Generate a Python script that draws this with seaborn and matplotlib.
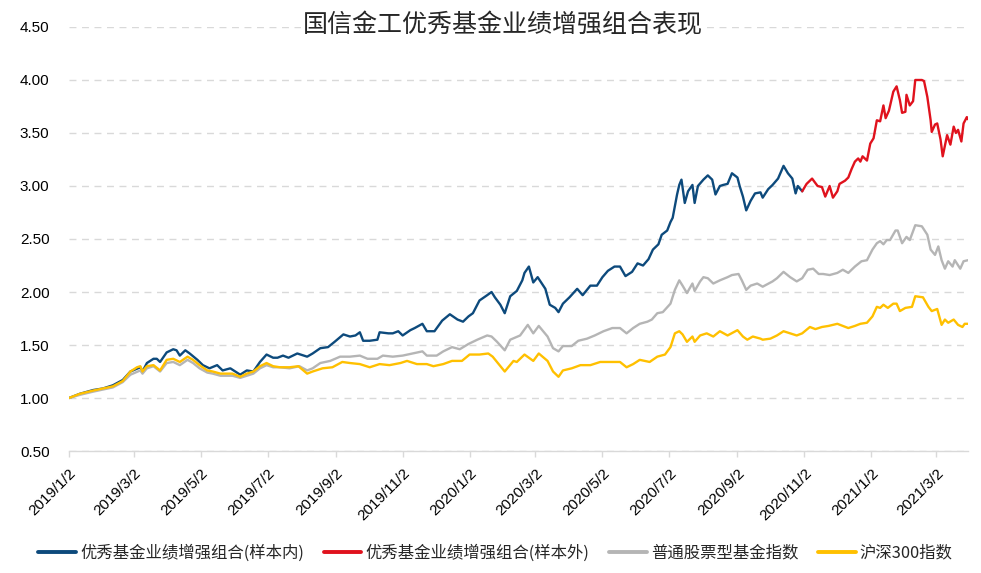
import matplotlib
matplotlib.use("Agg")
import matplotlib.pyplot as plt
from matplotlib.lines import Line2D
import pandas as pd
import seaborn as sns

# ---------------- data ----------------
blue_dates = ["2019-01-02","2019-01-12","2019-01-24","2019-02-02","2019-02-11","2019-02-20","2019-02-27","2019-03-08","2019-03-10","2019-03-14",
    "2019-03-20","2019-03-23","2019-03-26","2019-04-01","2019-04-07","2019-04-10","2019-04-13","2019-04-18","2019-04-22","2019-04-29",
    "2019-05-04","2019-05-10","2019-05-17","2019-05-22","2019-05-29","2019-06-07","2019-06-13","2019-06-19","2019-06-25","2019-07-01",
    "2019-07-07","2019-07-11","2019-07-16","2019-07-21","2019-07-29","2019-08-07","2019-08-12","2019-08-19","2019-08-26","2019-09-01",
    "2019-09-09","2019-09-15","2019-09-20","2019-09-24","2019-09-27","2019-10-03","2019-10-10","2019-10-12","2019-10-20","2019-10-24",
    "2019-10-29","2019-11-02","2019-11-09","2019-11-13","2019-11-20","2019-11-24","2019-12-01","2019-12-08","2019-12-15","2019-12-22",
    "2019-12-27","2020-01-01","2020-01-05","2020-01-11","2020-01-18","2020-01-22","2020-01-25","2020-01-30","2020-02-03","2020-02-08",
    "2020-02-14","2020-02-19","2020-02-21","2020-02-25","2020-02-29","2020-03-04","2020-03-11","2020-03-15","2020-03-20","2020-03-23",
    "2020-03-27","2020-04-02","2020-04-09","2020-04-14","2020-04-21","2020-04-27","2020-05-02","2020-05-07","2020-05-13","2020-05-18",
    "2020-05-23","2020-05-29","2020-06-03","2020-06-08","2020-06-13","2020-06-17","2020-06-22","2020-06-25","2020-06-30","2020-07-03",
    "2020-07-05","2020-07-09","2020-07-11","2020-07-13","2020-07-16","2020-07-19","2020-07-23","2020-07-25","2020-07-28","2020-08-02",
    "2020-08-06","2020-08-10","2020-08-13","2020-08-17","2020-08-20","2020-08-24","2020-08-28","2020-09-02","2020-09-04","2020-09-07",
    "2020-09-10","2020-09-14","2020-09-18","2020-09-23","2020-09-25","2020-09-30","2020-10-04","2020-10-09","2020-10-14","2020-10-18",
    "2020-10-22","2020-10-25","2020-10-27","2020-10-31"]
blue_vals = [1.00,1.04,1.075,1.09,1.12,1.17,1.25,1.29,1.25,1.33,
    1.37,1.37,1.34,1.43,1.46,1.45,1.40,1.45,1.42,1.36,
    1.31,1.28,1.31,1.26,1.28,1.22,1.26,1.25,1.34,1.41,
    1.38,1.38,1.40,1.38,1.42,1.39,1.42,1.47,1.48,1.53,
    1.60,1.58,1.59,1.62,1.54,1.54,1.55,1.62,1.61,1.61,
    1.63,1.59,1.64,1.66,1.70,1.63,1.63,1.73,1.79,1.74,
    1.72,1.77,1.80,1.92,1.97,2.00,1.95,1.88,1.80,1.96,
    2.01,2.11,2.18,2.24,2.09,2.14,2.03,1.88,1.85,1.81,
    1.89,1.95,2.03,1.97,2.06,2.06,2.14,2.20,2.24,2.24,
    2.15,2.19,2.27,2.25,2.31,2.40,2.45,2.54,2.58,2.66,
    2.70,2.92,3.01,3.06,2.84,2.95,3.01,2.84,3.00,3.06,
    3.10,3.06,2.92,3.00,3.01,3.02,3.12,3.08,3.00,2.90,
    2.77,2.86,2.93,2.94,2.89,2.97,3.01,3.07,3.19,3.12,
    3.07,2.93,3.00,2.95]

red_dates = ["2020-10-31","2020-11-04","2020-11-09","2020-11-14","2020-11-18","2020-11-21","2020-11-25","2020-11-28","2020-12-02","2020-12-04",
    "2020-12-09","2020-12-12","2020-12-15","2020-12-18","2020-12-21","2020-12-23","2020-12-25","2020-12-29","2021-01-01","2021-01-04",
    "2021-01-07","2021-01-10","2021-01-13","2021-01-15","2021-01-18","2021-01-22","2021-01-25","2021-01-28","2021-01-30","2021-02-02",
    "2021-02-03","2021-02-06","2021-02-09","2021-02-11","2021-02-17","2021-02-19","2021-02-22","2021-02-25","2021-02-26","2021-03-01",
    "2021-03-03","2021-03-06","2021-03-08","2021-03-12","2021-03-15","2021-03-18","2021-03-20","2021-03-22","2021-03-25","2021-03-27",
    "2021-03-30","2021-03-31"]
red_vals = [2.95,3.02,3.07,3.00,2.99,2.90,3.00,2.89,2.95,3.02,
    3.05,3.08,3.16,3.23,3.26,3.23,3.28,3.24,3.40,3.45,
    3.62,3.61,3.76,3.64,3.71,3.89,3.94,3.81,3.69,3.70,
    3.86,3.76,3.80,4.00,4.00,3.99,3.84,3.62,3.51,3.58,
    3.59,3.44,3.28,3.48,3.39,3.56,3.50,3.53,3.42,3.59,
    3.65,3.63]

gray_dates = ["2019-01-02","2019-01-12","2019-01-24","2019-02-02","2019-02-11","2019-02-20","2019-02-27","2019-03-08","2019-03-10","2019-03-14",
    "2019-03-20","2019-03-26","2019-04-01","2019-04-07","2019-04-13","2019-04-20","2019-04-25","2019-05-01","2019-05-08","2019-05-13",
    "2019-05-20","2019-05-26","2019-05-31","2019-06-07","2019-06-13","2019-06-19","2019-06-25","2019-07-01","2019-07-07","2019-07-13",
    "2019-07-22","2019-07-31","2019-08-07","2019-08-12","2019-08-19","2019-08-28","2019-09-06","2019-09-15","2019-09-24","2019-10-01",
    "2019-10-10","2019-10-15","2019-10-24","2019-11-02","2019-11-11","2019-11-20","2019-11-24","2019-12-03","2019-12-09","2019-12-17",
    "2019-12-24","2020-01-01","2020-01-09","2020-01-18","2020-01-22","2020-01-27","2020-02-03","2020-02-08","2020-02-17","2020-02-24",
    "2020-02-29","2020-03-05","2020-03-13","2020-03-18","2020-03-23","2020-03-27","2020-04-04","2020-04-10","2020-04-18","2020-04-25",
    "2020-05-03","2020-05-11","2020-05-18","2020-05-24","2020-05-30","2020-06-05","2020-06-12","2020-06-16","2020-06-21","2020-06-26",
    "2020-07-03","2020-07-07","2020-07-11","2020-07-14","2020-07-18","2020-07-23","2020-07-25","2020-07-30","2020-08-02","2020-08-06",
    "2020-08-11","2020-08-17","2020-08-24","2020-08-28","2020-09-03","2020-09-06","2020-09-10","2020-09-14","2020-09-20","2020-09-25",
    "2020-10-04","2020-10-08","2020-10-14","2020-10-20","2020-10-26","2020-10-31","2020-11-05","2020-11-10","2020-11-15","2020-11-19",
    "2020-11-25","2020-12-02","2020-12-07","2020-12-12","2020-12-18","2020-12-24","2020-12-29","2021-01-03","2021-01-07","2021-01-10",
    "2021-01-13","2021-01-16","2021-01-19","2021-01-24","2021-01-26","2021-01-30","2021-02-03","2021-02-06","2021-02-11","2021-02-17",
    "2021-02-22","2021-02-25","2021-03-01","2021-03-04","2021-03-07","2021-03-10","2021-03-13","2021-03-17","2021-03-19","2021-03-24",
    "2021-03-27","2021-03-31"]
gray_vals = [1.00,1.03,1.06,1.08,1.10,1.15,1.22,1.26,1.23,1.28,
    1.30,1.25,1.33,1.34,1.31,1.36,1.33,1.28,1.24,1.23,
    1.21,1.21,1.21,1.19,1.21,1.23,1.28,1.31,1.29,1.29,
    1.28,1.30,1.26,1.28,1.33,1.35,1.39,1.39,1.40,1.37,
    1.37,1.40,1.39,1.40,1.42,1.44,1.40,1.40,1.44,1.48,
    1.46,1.51,1.55,1.59,1.58,1.53,1.45,1.55,1.59,1.69,
    1.61,1.68,1.58,1.47,1.44,1.49,1.49,1.54,1.56,1.59,
    1.63,1.66,1.66,1.61,1.66,1.70,1.72,1.74,1.80,1.81,
    1.89,2.02,2.11,2.06,1.99,2.08,2.01,2.10,2.14,2.13,
    2.08,2.11,2.14,2.16,2.17,2.11,2.02,2.06,2.08,2.05,
    2.10,2.13,2.19,2.14,2.10,2.13,2.21,2.22,2.17,2.17,
    2.16,2.18,2.21,2.18,2.24,2.29,2.30,2.40,2.46,2.48,
    2.45,2.49,2.49,2.58,2.58,2.46,2.52,2.49,2.63,2.62,
    2.54,2.40,2.35,2.43,2.30,2.22,2.29,2.24,2.30,2.22,
    2.29,2.30]

yellow_dates = ["2019-01-02","2019-01-12","2019-01-24","2019-02-02","2019-02-11","2019-02-20","2019-02-27","2019-03-05","2019-03-08","2019-03-10",
    "2019-03-14","2019-03-20","2019-03-26","2019-04-01","2019-04-07","2019-04-13","2019-04-20","2019-04-25","2019-05-01","2019-05-08",
    "2019-05-13","2019-05-20","2019-05-26","2019-05-31","2019-06-07","2019-06-13","2019-06-19","2019-06-25","2019-07-01","2019-07-07",
    "2019-07-13","2019-07-22","2019-07-30","2019-08-07","2019-08-12","2019-08-21","2019-08-30","2019-09-08","2019-09-15","2019-09-24",
    "2019-10-03","2019-10-12","2019-10-21","2019-10-31","2019-11-06","2019-11-15","2019-11-24","2019-11-30","2019-12-09","2019-12-17",
    "2019-12-26","2020-01-02","2020-01-11","2020-01-19","2020-01-23","2020-02-03","2020-02-11","2020-02-14","2020-02-21","2020-02-29",
    "2020-03-05","2020-03-13","2020-03-18","2020-03-23","2020-03-27","2020-04-04","2020-04-12","2020-04-21","2020-04-30","2020-05-09",
    "2020-05-18","2020-05-24","2020-05-30","2020-06-05","2020-06-14","2020-06-21","2020-06-28","2020-07-03","2020-07-07","2020-07-11",
    "2020-07-14","2020-07-18","2020-07-23","2020-07-25","2020-07-30","2020-08-05","2020-08-11","2020-08-17","2020-08-24","2020-09-02",
    "2020-09-07","2020-09-11","2020-09-16","2020-09-23","2020-09-25","2020-10-02","2020-10-08","2020-10-14","2020-10-20","2020-10-26",
    "2020-10-31","2020-11-07","2020-11-12","2020-11-18","2020-11-24","2020-12-02","2020-12-07","2020-12-12","2020-12-18","2020-12-23",
    "2020-12-29","2021-01-03","2021-01-07","2021-01-10","2021-01-13","2021-01-17","2021-01-22","2021-01-25","2021-01-28","2021-02-02",
    "2021-02-08","2021-02-11","2021-02-18","2021-02-23","2021-02-26","2021-03-03","2021-03-07","2021-03-10","2021-03-13","2021-03-18",
    "2021-03-22","2021-03-26","2021-03-28","2021-03-31"]
yellow_vals = [1.00,1.04,1.07,1.09,1.11,1.16,1.25,1.29,1.30,1.25,
    1.30,1.31,1.26,1.36,1.37,1.34,1.39,1.36,1.31,1.26,
    1.25,1.23,1.23,1.23,1.20,1.23,1.25,1.30,1.33,1.30,
    1.29,1.29,1.30,1.23,1.25,1.28,1.29,1.34,1.33,1.32,
    1.29,1.32,1.31,1.33,1.35,1.32,1.32,1.30,1.32,1.35,
    1.35,1.41,1.41,1.42,1.39,1.25,1.35,1.34,1.41,1.35,
    1.42,1.35,1.25,1.20,1.26,1.28,1.31,1.31,1.34,1.34,
    1.34,1.29,1.32,1.36,1.34,1.39,1.41,1.48,1.61,1.63,
    1.60,1.53,1.58,1.53,1.59,1.61,1.58,1.63,1.59,1.64,
    1.58,1.55,1.58,1.56,1.55,1.56,1.59,1.63,1.61,1.59,
    1.61,1.67,1.65,1.67,1.68,1.70,1.68,1.66,1.68,1.70,
    1.71,1.77,1.86,1.85,1.88,1.85,1.89,1.89,1.82,1.85,
    1.86,1.96,1.95,1.86,1.82,1.84,1.69,1.74,1.71,1.74,
    1.69,1.67,1.70,1.70]

series_names = ["优秀基金业绩增强组合(样本内)", "优秀基金业绩增强组合(样本外)", "普通股票型基金指数", "沪深300指数"]
series_colors = ["#0D4A7C", "#E0121D", "#B5B5B5", "#FFC000"]

x_tick_labels = ["2019/1/2","2019/3/2","2019/5/2","2019/7/2","2019/9/2","2019/11/2","2020/1/2",
                 "2020/3/2","2020/5/2","2020/7/2","2020/9/2","2020/11/2","2021/1/2","2021/3/2"]
y_ticks = [0.5, 1.0, 1.5, 2.0, 2.5, 3.0, 3.5, 4.0, 4.5]
title = "国信金工优秀基金业绩增强组合表现"

# ---------------- plot ----------------
sns.set_theme(style="white")
plt.rcParams["font.family"] = ["Liberation Sans", "Noto Sans CJK SC", "DejaVu Sans"]

fig = plt.figure(figsize=(9.81, 5.73), dpi=100)
ax = fig.add_axes([0.0703, 0.2129, 0.9164, 0.7400])

frames = [
    pd.DataFrame({"date": pd.to_datetime(blue_dates), "v": blue_vals}),
    pd.DataFrame({"date": pd.to_datetime(red_dates), "v": red_vals}),
    pd.DataFrame({"date": pd.to_datetime(gray_dates), "v": gray_vals}),
    pd.DataFrame({"date": pd.to_datetime(yellow_dates), "v": yellow_vals}),
]
zorders = [3, 3, 4, 5]
lw = 1.7
for df, c, z in zip(frames, series_colors, zorders):
    sns.lineplot(data=df, x="date", y="v", ax=ax, color=c, linewidth=lw,
                 estimator=None, sort=False, zorder=z, legend=False)

ax.set_xlim(pd.Timestamp("2019-01-02"), pd.Timestamp("2021-03-31"))
ax.set_ylim(0.5, 4.5)
ax.set_yticks(y_ticks)
ax.set_yticklabels([f"{v:.2f}" for v in y_ticks], fontsize=11, color="#000000")
tick_dates = pd.to_datetime(x_tick_labels, format="%Y/%m/%d")
ax.set_xticks(tick_dates)
ax.set_xticklabels(x_tick_labels, rotation=45, ha="right", va="top",
                   rotation_mode="anchor", fontsize=11, color="#000000")
ax.set_xlabel("")
ax.set_ylabel("")

ax.yaxis.grid(True, linestyle=(0, (5, 4)), color="#D9D9D9", linewidth=1.0)
ax.xaxis.grid(False)
for s in ["top", "right", "left"]:
    ax.spines[s].set_visible(False)
ax.spines["bottom"].set_color("#D9D9D9")
ax.spines["bottom"].set_linewidth(1.0)
ax.tick_params(axis="x", which="major", bottom=True, length=4, width=1, color="#D9D9D9", pad=7)
ax.tick_params(axis="y", which="major", left=False, length=0, pad=14)

fig.text(0.513, 1 - 25 / 573, title, ha="center", va="center", fontsize=18,
         family=["Noto Sans CJK SC", "DejaVu Sans"],
         bbox=dict(facecolor="white", edgecolor="none", pad=2), zorder=10)

handles = [Line2D([0], [0], color=c, linewidth=2.8) for c in series_colors]
fig.legend(handles, series_names, loc="center", bbox_to_anchor=(0.505, 20 / 573), ncol=4,
           frameon=False, handlelength=2.3, handletextpad=0.25,
           columnspacing=1.2, prop={"family": ["Noto Sans CJK SC", "DejaVu Sans"], "size": 11.8})

fig.savefig("out.png", dpi=100)
